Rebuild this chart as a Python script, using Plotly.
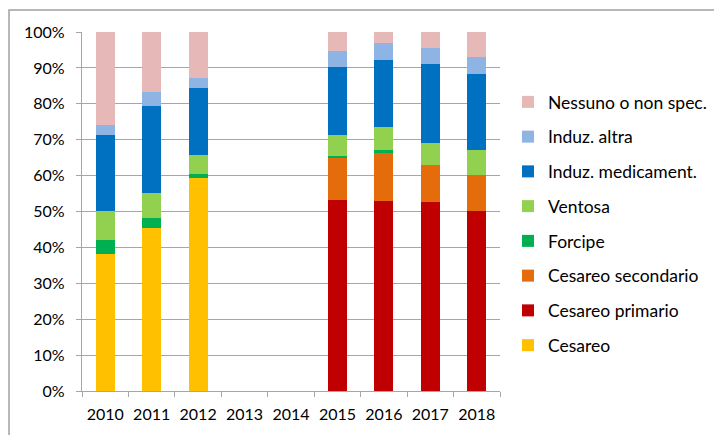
import plotly.graph_objects as go

years = ["2010", "2011", "2012", "2013", "2014", "2015", "2016", "2017", "2018"]

cesareo = [38.3, 45.5, 59.4, 0, 0, 0, 0, 0, 0]
cesareo_primario = [0, 0, 0, 0, 0, 53.3, 53.0, 52.7, 50.1]
cesareo_secondario = [0, 0, 0, 0, 0, 11.6, 13.4, 10.2, 10.1]
forcipe = [3.8, 2.7, 1.1, 0, 0, 0.7, 0.7, 0, 0]
ventosa = [8.0, 6.9, 5.2, 0, 0, 5.7, 6.4, 6.2, 6.8]
induz_medicament = [21.3, 24.4, 18.8, 0, 0, 18.9, 18.8, 22.1, 21.4]
induz_altra = [2.8, 3.8, 2.8, 0, 0, 4.6, 4.7, 4.4, 4.7]
nessuno = [25.8, 16.7, 12.7, 0, 0, 5.2, 3.0, 4.4, 6.9]

series = [
    ("Cesareo", cesareo, "#FFC000"),
    ("Cesareo primario", cesareo_primario, "#C00000"),
    ("Cesareo secondario", cesareo_secondario, "#E46C0A"),
    ("Forcipe", forcipe, "#00B050"),
    ("Ventosa", ventosa, "#92D050"),
    ("Induz. medicament.", induz_medicament, "#0070C0"),
    ("Induz. altra", induz_altra, "#8EB4E3"),
    ("Nessuno o non spec.", nessuno, "#E6B9B8"),
]

FONT = "Lato"
fig = go.Figure()
n = len(series)
for i, (name, vals, col) in enumerate(series):
    fig.add_trace(go.Bar(
        x=years, y=vals, name=name, legendgroup=name, legendrank=100 + (n - i),
        marker=dict(color=col, line=dict(width=0)),
    ))

# page has an 8px body margin; figure coordinates are page minus 8
OFF = 8
W, H = 722 - OFF, 435 - OFF
L, T = 82 - OFF, 32 - OFF
R = W - (500 - OFF)
B = H - (391 - OFF)
pw, ph = W - L - R, H - T - B

fig.update_layout(
    width=W, height=H,
    margin=dict(l=L, r=R, t=T, b=B, pad=0, autoexpand=False),
    barmode="stack", bargap=0.59,
    plot_bgcolor="white", paper_bgcolor="white",
    font=dict(family=FONT, size=16, color="black"),
    showlegend=True,
    legend=dict(
        traceorder="grouped", tracegroupgap=9,
        x=1.0 + (508 - 500) / pw, xanchor="left",
        y=1 - (84 - 32) / ph, yanchor="top",
        font=dict(family=FONT, size=17.5, color="black"),
        itemwidth=30, bgcolor="rgba(0,0,0,0)",
    ),
    xaxis=dict(
        type="category", showgrid=False, automargin=False, tickangle=0,
        showline=True, linecolor="#A6A6A6", linewidth=1.3,
        ticks="outside", tickson="boundaries", ticklen=5, tickcolor="#A6A6A6",
        ticklabelstandoff=9,
        tickfont=dict(family=FONT, size=16, color="black"),
    ),
    yaxis=dict(
        range=[0, 100], dtick=10, ticksuffix="%", automargin=False,
        showgrid=True, gridcolor="#A6A6A6", gridwidth=1.3,
        showline=True, linecolor="#A6A6A6", linewidth=1.3,
        ticks="outside", ticklen=5, tickcolor="#A6A6A6",
        ticklabelstandoff=8,
        tickfont=dict(family=FONT, size=16, color="black"),
        zeroline=False,
    ),
    shapes=[dict(
        type="rect", xref="paper", yref="paper",
        x0=(9 - 82) / pw, x1=(721 - 82) / pw,
        y0=-0.3, y1=1 + (32 - 10) / ph,
        line=dict(color="#A0A0A0", width=1.5), fillcolor="rgba(0,0,0,0)",
        layer="below",
    )],
)

fig.write_html("out.html")
